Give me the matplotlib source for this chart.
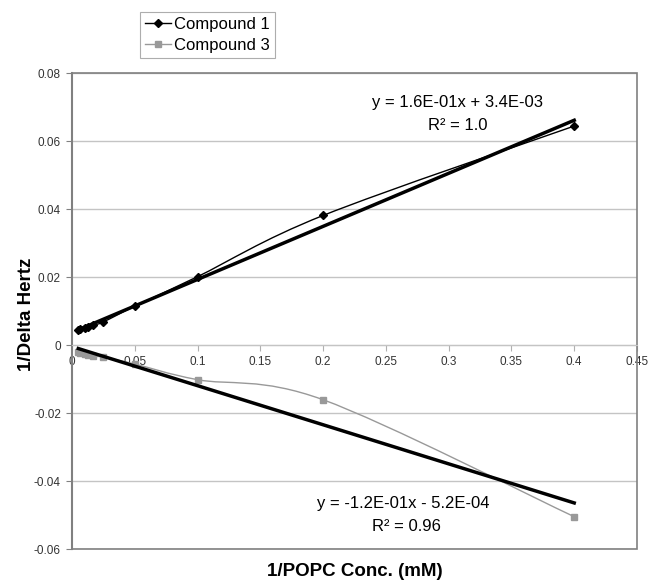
import numpy as np
import matplotlib
matplotlib.use("Agg")
import matplotlib.pyplot as plt
from matplotlib.path import Path
from matplotlib.patches import PathPatch, Rectangle
from matplotlib.lines import Line2D

plt.rcParams['font.family'] = ['Liberation Sans', 'DejaVu Sans']

# data
x_conc = [0.005, 0.00667, 0.01, 0.0125, 0.0167, 0.025, 0.05, 0.1, 0.2, 0.4]
y_comp1 = [0.0043, 0.0046, 0.0049, 0.0053, 0.0058, 0.0068, 0.0114, 0.0201, 0.0381, 0.0644]
y_comp3 = [-0.0022, -0.0024, -0.0027, -0.0030, -0.0033, -0.0036, -0.0056, -0.0102, -0.0161, -0.0505]

eq1 = "y = 1.6E-01x + 3.4E-03"
r2_1 = "R² = 1.0"
eq3 = "y = -1.2E-01x - 5.2E-04"
r2_3 = "R² = 0.96"

x_ticks = [0, 0.05, 0.1, 0.15, 0.2, 0.25, 0.3, 0.35, 0.4, 0.45]
x_ticklabels = ["0", "0.05", "0.1", "0.15", "0.2", "0.25", "0.3", "0.35", "0.4", "0.45"]
y_ticks = [-0.06, -0.04, -0.02, 0, 0.02, 0.04, 0.06, 0.08]
y_ticklabels = ["-0.06", "-0.04", "-0.02", "0", "0.02", "0.04", "0.06", "0.08"]


def smooth_path(xs, ys):
    # excel-style smoothed line: catmull-rom converted to bezier
    p = np.column_stack([xs, ys])
    verts = [p[0]]
    codes = [Path.MOVETO]
    n = len(p)
    for i in range(n - 1):
        p0 = p[i - 1] if i > 0 else p[i]
        p3 = p[i + 2] if i + 2 < n else p[i + 1]
        c1 = p[i] + (p[i + 1] - p0) / 6.0
        c2 = p[i + 1] - (p3 - p[i]) / 6.0
        verts += [c1, c2, p[i + 1]]
        codes += [Path.CURVE4] * 3
    return Path(verts, codes)


fig = plt.figure(figsize=(6.49, 5.84), dpi=100)
ax = fig.add_axes([72 / 649, 35 / 584, 565 / 649, 476 / 584])
ax.set_xlim(0, 0.45)
ax.set_ylim(-0.06, 0.08)

ax.spines['top'].set_visible(False)
ax.spines['right'].set_visible(False)
ax.spines['left'].set_color('#808080')
ax.spines['left'].set_linewidth(1.5)
ax.spines['bottom'].set_position(('data', 0))
ax.spines['bottom'].set_color('#c4c4c4')

ax.set_yticks(y_ticks)
ax.set_yticklabels(y_ticklabels)
ax.set_xticks(x_ticks)
ax.set_xticklabels(x_ticklabels)
ax.tick_params(axis='both', labelsize=8.5, labelcolor='#333333')
ax.tick_params(axis='x', direction='out', length=4, color='#b0b0b0', pad=4)
ax.tick_params(axis='y', direction='out', length=4, color='#808080', pad=4)
ax.yaxis.grid(True, color='#c4c4c4', lw=1)
ax.set_axisbelow(True)
ax.add_patch(Rectangle((0, 0), 1, 1, transform=ax.transAxes, fill=False,
                       edgecolor='#808080', lw=1.2, clip_on=False))

# series with smoothed lines
ax.add_patch(PathPatch(smooth_path(x_conc, y_comp3), fill=False, edgecolor='#999999', lw=1))
ax.plot(x_conc, y_comp3, ls='none', marker='s', ms=5, color='#999999')
ax.add_patch(PathPatch(smooth_path(x_conc, y_comp1), fill=False, edgecolor='black', lw=1))
ax.plot(x_conc, y_comp1, ls='none', marker='D', ms=4, color='black')

# linear trend lines
xs = np.array([min(x_conc), max(x_conc)])
for ys in (y_comp1, y_comp3):
    k, b = np.polyfit(x_conc, ys, 1)
    ax.plot(xs, k * xs + b, color='black', lw=2.5)

ax.text(0.307, 0.0712, eq1, fontsize=12, ha='center', va='center')
ax.text(0.307, 0.0645, r2_1, fontsize=12, ha='center', va='center')
ax.text(0.264, -0.0466, eq3, fontsize=12, ha='center', va='center')
ax.text(0.266, -0.0533, r2_3, fontsize=12, ha='center', va='center')

fig.text(27 / 649, 1 - 314 / 584, "1/Delta Hertz", fontsize=13.5, fontweight='bold',
         rotation=90, ha='center', va='center')
fig.text(355 / 649, 1 - 571 / 584, "1/POPC Conc. (mM)", fontsize=13.5,
         fontweight='bold', ha='center', va='center')

handles = [Line2D([], [], color='black', lw=1, marker='D', ms=4),
           Line2D([], [], color='#999999', lw=1, marker='s', ms=5)]
leg = fig.legend(handles, ["Compound 1", "Compound 3"], loc='upper left',
                 bbox_to_anchor=(140 / 649, 1 - 12 / 584), fontsize=12,
                 fancybox=False, edgecolor='#999999', handlelength=1.55,
                 handletextpad=0.2, borderpad=0.3, labelspacing=0.35,
                 borderaxespad=0)
leg.get_frame().set_linewidth(0.8)

fig.savefig("out.png", dpi=100)
